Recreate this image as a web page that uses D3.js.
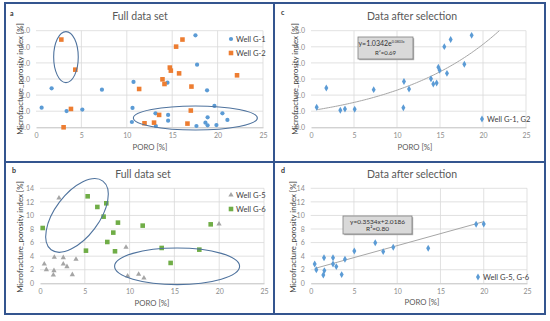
<!DOCTYPE html>
<html>
<head>
<meta charset="utf-8">
<script src="https://cdn.jsdelivr.net/npm/d3@7"></script>
<style>
  body { margin: 0; background: #fff; }
  text { font-family: Lato, "Noto Sans", sans-serif; }
</style>
</head>
<body>
<div id="chart"></div>
<script>
// Panel a: full data set, wells G-1 / G-2
const poroG1 = [0.62, 1.72, 3.37, 5.1, 7.26, 10.74, 10.63, 10.56, 13.2, 13.16, 14.48, 14.55, 14.55, 17.56, 17.74, 17.67, 18.84, 18.66, 18.9, 18.9, 19.65, 19.87, 20.53, 21.08]
const mpiG1 = [1.22, 2.42, 1.01, 1.1, 2.34, 2.82, 1.2, 0.33, 0.08, 0.87, 2.77, 0.77, 0.41, 5.71, 3.89, 0.08, 2.3, 0.29, 0.62, 0.12, 1.33, 0.14, 0.87, 0.46]
const poroG2 = [2.79, 4.33, 3.85, 3.04, 11.36, 11.95, 13.0, 13.56, 13.93, 14.15, 14.74, 14.85, 15.43, 16.13, 15.76, 17.12, 17.05, 16.68, 22.14]
const mpiG2 = [5.45, 3.58, 1.14, 0.0, 2.38, 0.25, 0.29, 0.77, 2.98, 2.69, 3.71, 3.52, 5.01, 5.45, 3.35, 2.53, 1.04, 0.23, 3.23]

// Panel c: after selection, wells G-1, G2
const poroSelA = [0.66, 1.78, 3.41, 3.95, 5.08, 7.29, 10.81, 10.74, 11.4, 13.95, 14.22, 14.61, 14.81, 14.96, 15.5, 16.24, 15.81, 17.83, 18.68]
const mpiSelA = [1.24, 2.44, 1.06, 1.14, 1.12, 2.34, 2.84, 1.22, 2.38, 3.02, 2.69, 2.75, 3.73, 3.54, 5.01, 5.45, 3.35, 3.91, 5.71]

// Panel b: full data set, wells G-5 / G-6
const poroG5 = [0.48, 0.71, 1.6, 1.56, 1.49, 2.12, 2.6, 2.6, 3.01, 3.61, 4.02, 9.6, 9.78, 11.01, 11.6, 19.98]
const mpiG5 = [2.85, 2.01, 3.83, 1.87, 1.23, 12.57, 3.78, 2.85, 2.46, 1.28, 3.54, 5.3, 1.08, 1.33, 0.79, 8.74]
const poroG6 = [0.3, 5.13, 5.32, 6.4, 7.1, 7.4, 8.7, 8.18, 7.51, 8.37, 11.46, 13.58, 14.58, 17.78, 19.05]
const mpiG6 = [8.15, 4.81, 12.82, 11.25, 9.82, 11.79, 8.94, 7.47, 6.09, 4.72, 8.5, 5.21, 3.0, 4.96, 8.69]

// Panel d: after selection, wells G-5, G-6
const poroSelB = [0.46, 0.65, 1.54, 1.58, 1.46, 2.58, 2.58, 2.96, 3.58, 3.96, 5.04, 7.46, 8.38, 9.54, 13.58, 19.12, 20.0]
const mpiSelB = [2.85, 2.01, 3.78, 1.87, 1.23, 3.78, 2.85, 2.46, 1.28, 3.54, 4.76, 5.99, 4.67, 5.3, 5.16, 8.69, 8.74]

const xTicks = [0, 5, 10, 15, 20, 25]
const yTicksA = [0, 1, 2, 3, 4, 5, 6]
const yTicksB = [0, 2, 4, 6, 8, 10, 12, 14]

// trend lines
const expFit = { a: 1.0342, b: 0.0803, label: "y=1.0342e", sup: "0.0803x", r2: "R²=0.69" }
const linFit = { m: 0.3534, c: 2.0186, label: "y=0.3534x+2.0186", r2: "R²=0.80" }

const width = 550
const height = 321

const svg = d3.select("#chart").append("svg")
    .attr("width", width)
    .attr("height", height)

const colors = { g1: "#5b9bd5", g2: "#ed7d31", g5: "#a5a5a5", g6: "#70ad47", sel: "#5b9bd5" }

const shape = {
    circle: d3.symbol(d3.symbolCircle, 14),
    square: d3.symbol(d3.symbolSquare, 21),
    triangle: d3.symbol(d3.symbolTriangle, 12),
    diamond: d3.symbol(d3.symbolDiamond, 14)
}

function panel(p) {
    const x = d3.scaleLinear().domain([0, 25]).range(p.xr)
    const y = d3.scaleLinear().domain([0, p.ymax]).range(p.yr)
    const g = svg.append("g")

    // gridlines
    g.append("g").selectAll("line")
        .data(p.yTicks.slice(1))
        .join("line")
        .attr("x1", p.xr[0]).attr("x2", p.xr[1])
        .attr("y1", d => y(d)).attr("y2", d => y(d))
        .attr("stroke", "#d9d9d9").attr("stroke-width", 0.8)
    g.append("g").selectAll("line")
        .data(xTicks.slice(1))
        .join("line")
        .attr("x1", d => x(d)).attr("x2", d => x(d))
        .attr("y1", p.yr[0]).attr("y2", p.yr[1])
        .attr("stroke", "#d9d9d9").attr("stroke-width", 0.8)

    const xAxis = g.append("g")
        .attr("transform", `translate(0,${p.yr[0]})`)
        .call(d3.axisBottom(x).tickValues(xTicks).tickSize(0).tickPadding(6))
    xAxis.select(".domain").attr("stroke", "#bfbfbf")
    xAxis.selectAll("text").attr("fill", "#8c8c8c").attr("font-size", 7).attr("font-family", "Lato, sans-serif")

    const yAxis = g.append("g")
        .attr("transform", `translate(${p.xr[0]},0)`)
        .call(d3.axisLeft(y).tickValues(p.yTicks).tickSize(0).tickPadding(6))
    yAxis.select(".domain").remove()
    yAxis.selectAll("text").attr("fill", "#8c8c8c").attr("font-size", 7).attr("font-family", "Lato, sans-serif")

    // titles
    g.append("text")
        .attr("x", p.title[0]).attr("y", p.title[1])
        .attr("text-anchor", "middle")
        .attr("font-size", 10.5).attr("fill", "#595959")
        .text(p.titleText)
    g.append("text")
        .attr("x", p.letter[0]).attr("y", p.letter[1])
        .attr("font-size", 7).attr("font-weight", "bold").attr("fill", "#333")
        .text(p.letterText)
    g.append("text")
        .attr("transform", `translate(${p.ytitle[0]},${p.ytitle[1]}) rotate(-90)`)
        .attr("text-anchor", "middle")
        .attr("font-size", 7.8).attr("fill", "#404040")
        .text("Microfracture_porosity index [%]")
    g.append("text")
        .attr("x", p.xtitle[0]).attr("y", p.xtitle[1])
        .attr("text-anchor", "middle")
        .attr("font-size", 7.8).attr("fill", "#595959")
        .text("PORO [%]")

    if (p.trend) p.trend(g, x, y)

    // series
    p.series.forEach(s => {
        g.append("g").selectAll("path")
            .data(d3.zip(s.xs, s.ys))
            .join("path")
            .attr("transform", d => `translate(${x(d[0])},${y(d[1])})`)
            .attr("d", shape[s.shape]())
            .attr("fill", s.color)
    })

    // ellipses
    ;(p.ellipses || []).forEach(e => {
        g.append("ellipse")
            .attr("cx", 0).attr("cy", 0)
            .attr("rx", e.rx).attr("ry", e.ry)
            .attr("transform", `translate(${x(e.cx)},${y(e.cy)}) rotate(${e.rot || 0})`)
            .attr("fill", "none")
            .attr("stroke", "#4f739e").attr("stroke-width", 1.1)
    })

    // legend
    p.legend.forEach((l, i) => {
        const ly = p.legendPos[1] + i * p.legendStep
        g.append("path")
            .attr("transform", `translate(${p.legendPos[0]},${ly})`)
            .attr("d", shape[l.shape]())
            .attr("fill", l.color)
        g.append("text")
            .attr("x", p.legendPos[0] + 5).attr("y", ly + 2.8)
            .attr("font-size", 7.6).attr("fill", "#404040")
            .text(l.name)
    })
}

function eqBox(g, bx, by, bw, bh, lines) {
    g.append("rect")
        .attr("x", bx + 1.2).attr("y", by + 1.2).attr("width", bw).attr("height", bh)
        .attr("fill", "#b0b0b0")
    g.append("rect")
        .attr("x", bx).attr("y", by).attr("width", bw).attr("height", bh)
        .attr("fill", "#d9d9d9").attr("stroke", "#7f7f7f").attr("stroke-width", 0.8)
    lines(g, bx + bw / 2, by)
}

// a
panel({
    xr: [36, 263], yr: [127.3, 30.7], ymax: 6, yTicks: yTicksA,
    title: [140, 20], titleText: "Full data set",
    letter: [10, 16], letterText: "a",
    ytitle: [23, 79], xtitle: [150, 150],
    series: [
        { xs: poroG1, ys: mpiG1, shape: "circle", color: colors.g1 },
        { xs: poroG2, ys: mpiG2, shape: "square", color: colors.g2 }
    ],
    ellipses: [
        { cx: 3.3, cy: 4.36, rx: 12.3, ry: 25.5 },
        { cx: 17.55, cy: 0.58, rx: 62, ry: 12 }
    ],
    legend: [
        { name: "Well G-1", shape: "circle", color: colors.g1 },
        { name: "Well G-2", shape: "square", color: colors.g2 }
    ],
    legendPos: [231, 39], legendStep: 14
})

// c
panel({
    xr: [311, 526], yr: [127.3, 30.7], ymax: 6, yTicks: yTicksA,
    title: [412, 20], titleText: "Data after selection",
    letter: [281, 15], letterText: "c",
    ytitle: [298, 79], xtitle: [415, 150],
    series: [{ xs: poroSelA, ys: mpiSelA, shape: "diamond", color: colors.sel }],
    legend: [{ name: "Well G-1, G2", shape: "diamond", color: colors.sel }],
    legendPos: [482, 119], legendStep: 14,
    trend: (g, x, y) => {
        const xEnd = Math.log(6 / expFit.a) / expFit.b
        const pts = d3.range(0.66, xEnd, 0.2).concat([xEnd])
        g.append("path")
            .attr("d", d3.line().x(d => x(d)).y(d => y(expFit.a * Math.exp(expFit.b * d)))(pts))
            .attr("fill", "none").attr("stroke", "#a6a6a6").attr("stroke-width", 1)
        eqBox(g, 358, 37, 55, 22, (g, cx, by) => {
            const t = g.append("text").attr("x", cx - 4).attr("y", by + 9)
                .attr("text-anchor", "middle").attr("font-size", 7).attr("fill", "#333")
            t.append("tspan").text(expFit.label)
            t.append("tspan").attr("dy", -3).attr("font-size", 3.5).text(expFit.sup)
            g.append("text").attr("x", cx).attr("y", by + 18)
                .attr("text-anchor", "middle").attr("font-size", 6).attr("fill", "#333")
                .text(expFit.r2)
        })
    }
})

// b
panel({
    xr: [40, 264], yr: [283.3, 188.3], ymax: 14, yTicks: yTicksB,
    title: [143, 178], titleText: "Full data set",
    letter: [12, 173], letterText: "b",
    ytitle: [23, 237], xtitle: [152, 306],
    series: [
        { xs: poroG5, ys: mpiG5, shape: "triangle", color: colors.g5 },
        { xs: poroG6, ys: mpiG6, shape: "square", color: colors.g6 }
    ],
    ellipses: [
        { cx: 4.13, cy: 10.0, rx: 43, ry: 22, rot: -53 },
        { cx: 15.3, cy: 2.5, rx: 62.5, ry: 18.3 }
    ],
    legend: [
        { name: "Well G-5", shape: "triangle", color: colors.g5 },
        { name: "Well G-6", shape: "square", color: colors.g6 }
    ],
    legendPos: [231, 195], legendStep: 14
})

// d
panel({
    xr: [310.7, 527], yr: [283.3, 188.3], ymax: 14, yTicks: yTicksB,
    title: [412, 178], titleText: "Data after selection",
    letter: [281, 173], letterText: "d",
    ytitle: [296, 237], xtitle: [422, 305],
    series: [{ xs: poroSelB, ys: mpiSelB, shape: "diamond", color: colors.sel }],
    legend: [{ name: "Well G-5, G-6", shape: "diamond", color: colors.sel }],
    legendPos: [478, 277], legendStep: 14,
    trend: (g, x, y) => {
        const x0 = d3.min(poroSelB), x1 = d3.max(poroSelB)
        g.append("line")
            .attr("x1", x(x0)).attr("y1", y(linFit.m * x0 + linFit.c))
            .attr("x2", x(x1)).attr("y2", y(linFit.m * x1 + linFit.c))
            .attr("stroke", "#a6a6a6").attr("stroke-width", 1)
        eqBox(g, 343, 216, 69, 18, (g, cx, by) => {
            g.append("text").attr("x", cx).attr("y", by + 7.5)
                .attr("text-anchor", "middle").attr("font-size", 6.5).attr("fill", "#333")
                .text(linFit.label)
            g.append("text").attr("x", cx).attr("y", by + 15)
                .attr("text-anchor", "middle").attr("font-size", 6.5).attr("fill", "#333")
                .text(linFit.r2)
        })
    }
})

// blue frame
const frame = svg.append("g").attr("fill", "none").attr("stroke", "#34558f").attr("stroke-width", 2)
frame.append("rect").attr("x", 5).attr("y", 3).attr("width", 540).attr("height", 311)
frame.append("line").attr("x1", 274).attr("x2", 274).attr("y1", 3).attr("y2", 314)
frame.append("line").attr("x1", 5).attr("x2", 545).attr("y1", 162).attr("y2", 162)
</script>
</body>
</html>
